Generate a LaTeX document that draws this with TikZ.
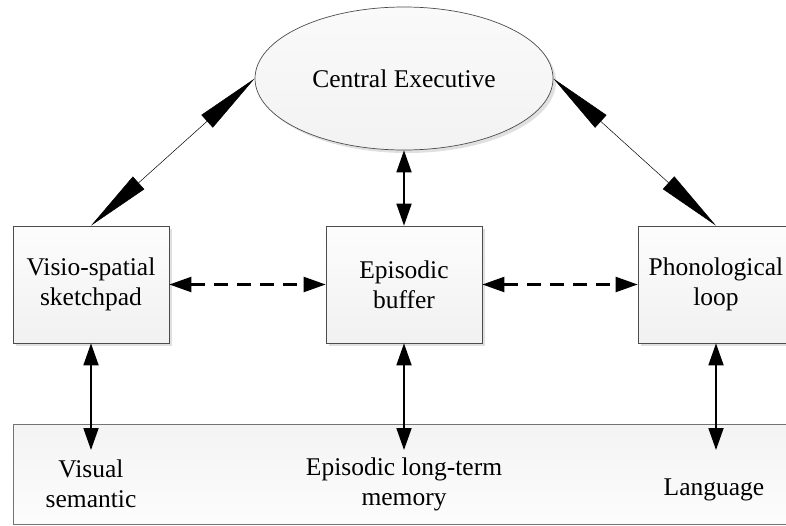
\documentclass[tikz,border=0pt]{standalone}
\usepackage{fontspec}
\setmainfont{Liberation Serif}
\newfontfamily\labelfont{Liberation Serif}
\usetikzlibrary{arrows.meta,shapes.geometric,shadows}
\begin{document}
\begin{tikzpicture}[x=1pt,y=-1pt,
  txt/.style={font=\labelfont\fontsize{25.5}{30}\selectfont, align=center},
  softshadow/.style={general shadow={fill=black!30, shadow xshift=3pt, shadow yshift=-3pt, opacity=0.4}},
  comp/.style={draw=black!70, line width=0.7pt, top color=gray!2, bottom color=gray!11,
    softshadow, minimum width=156pt, minimum height=117pt, inner sep=0pt, txt},
  exec/.style={ellipse, draw=black!70, line width=0.7pt, top color=gray!4, bottom color=gray!10,
    softshadow, minimum width=298pt, minimum height=143pt, inner sep=0pt, txt},
  store/.style={draw=black!55, line width=0.7pt, top color=gray!9, bottom color=gray!2,
    minimum width=790pt, minimum height=100pt, inner sep=0pt},
  diag/.style={line width=0.5pt, black, {Triangle[length=64pt, width=17pt]}-{Triangle[length=64pt, width=17pt]}},
  link/.style={line width=1.8pt, black, {Triangle[length=22pt, width=15pt]}-{Triangle[length=22pt, width=15pt]}},
  dlink/.style={line width=2.2pt, black, dash pattern=on 14pt off 9pt,
    {Triangle[length=22pt, width=15pt]}-{Triangle[length=22pt, width=15pt]}}
]
\useasboundingbox (0,0) rectangle (786,525);
\clip (0,0) rectangle (786,525);

% long-term memory strip along the bottom
\node[store, anchor=north west] (ltm) at (13,424) {};
\node[txt] (vis) at (91,484) {Visual\\semantic};
\node[txt] (epi) at (404,484) {Episodic long-term\\memory};
\node[txt] (lang) at (714,490) {Language};

% working-memory components
\node[exec] (ce) at (404,78.5) {Central Executive};
\node[comp] (vs) at (91,284.5) {Visio-spatial\\sketchpad};
\node[comp] (eb) at (404,284.5) {Episodic\\buffer};
\node[comp] (pl) at (716,284.5) {Phonological\\loop};

% ends of the links into long-term memory
\coordinate (vsend) at (91,450);
\coordinate (ebend) at (404,450);
\coordinate (plend) at (716,450);

% links
\draw[diag] (ce.west) -- (vs.north);
\draw[diag] (ce.east) -- (pl.north);
\draw[link] (ce.south) -- (eb.north);
\draw[dlink] (vs.east) -- (eb.west);
\draw[dlink] (eb.east) -- (pl.west);
\draw[link] (vs.south) -- (vsend);
\draw[link] (eb.south) -- (ebend);
\draw[link] (pl.south) -- (plend);
\end{tikzpicture}
\end{document}
